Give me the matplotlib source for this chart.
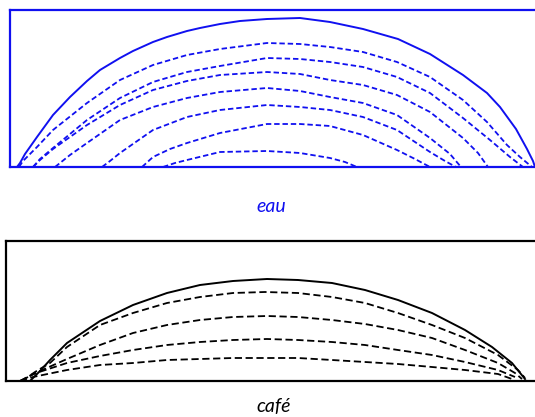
import matplotlib
matplotlib.use("Agg")
import matplotlib.pyplot as plt

# profils de goutte, x = position le long du bord, h = hauteur au-dessus du substrat
# eau (haut) : courbe initiale puis profils successifs
eau_x0 = [17, 20, 25, 37, 53, 70, 87, 100, 120, 133, 153, 167, 187, 200, 220, 240, 267, 300, 330, 363, 398, 430, 463, 487, 500, 516, 527, 533, 535]
eau_h0 = [0, 4, 13, 30, 52, 70, 86, 97, 109, 116, 125, 130, 136, 139, 143, 146, 148, 149, 145, 138, 128, 113, 92, 74, 60, 38, 18, 6, 0]

eau_x1 = [19, 23, 37, 53, 87, 120, 153, 187, 220, 267, 300, 330, 363, 397, 430, 463, 487, 507, 520, 532]
eau_h1 = [0, 6, 20, 37, 64, 87, 102, 112, 118, 124, 123, 120, 115, 105, 90, 67, 45, 22, 10, 0]
eau_x2 = [33, 40, 53, 87, 120, 153, 187, 220, 267, 300, 330, 363, 397, 430, 463, 490, 510, 523]
eau_h2 = [0, 8, 19, 47, 69, 85, 95, 101, 109, 108, 105, 100, 90, 74, 49, 27, 10, 0]
eau_x3 = [33, 40, 53, 87, 120, 153, 187, 220, 267, 300, 330, 363, 397, 430, 463, 478, 488]
eau_h3 = [0, 7, 18, 42, 62, 77, 86, 92, 95, 93, 87, 82, 72, 55, 29, 14, 0]
eau_x4 = [55, 70, 87, 120, 153, 187, 220, 267, 300, 330, 363, 397, 430, 450, 461]
eau_h4 = [0, 12, 24, 47, 60, 69, 75, 79, 76, 70, 64, 52, 29, 13, 0]
eau_x5 = [102, 110, 120, 153, 187, 220, 267, 300, 330, 363, 397, 430, 445, 456]
eau_h5 = [0, 6, 14, 37, 50, 57, 62, 60, 57, 50, 37, 15, 6, 0]
eau_x6 = [142, 153, 170, 187, 220, 267, 300, 330, 363, 397, 415, 430]
eau_h6 = [0, 10, 18, 24, 34, 43, 43, 41, 32, 17, 8, 0]
eau_x7 = [163, 175, 187, 220, 267, 300, 330, 345, 357]
eau_h7 = [0, 4, 7, 15, 16, 14, 9, 5, 0]

# café (bas)
cafe_x0 = [30, 40, 50, 67, 100, 133, 167, 200, 233, 267, 298, 332, 365, 398, 432, 465, 492, 512, 525]
cafe_h0 = [0, 10, 21, 38, 60, 76, 88, 96, 100, 102, 101, 98, 91, 81, 68, 51, 34, 18, 2]

cafe_x1 = [22, 35, 50, 67, 100, 133, 167, 200, 233, 265, 298, 332, 365, 398, 432, 465, 498, 518, 525]
cafe_h1 = [0, 9, 18, 34, 56, 68, 78, 84, 88, 89, 88, 84, 78, 68, 56, 43, 26, 11, 3]
cafe_x2 = [20, 40, 67, 100, 133, 167, 200, 233, 267, 298, 332, 365, 398, 432, 465, 498, 515, 522]
cafe_h2 = [0, 10, 22, 36, 48, 56, 61, 64, 65, 64, 61, 57, 51, 43, 31, 18, 8, 2]
cafe_x3 = [20, 33, 67, 100, 133, 167, 200, 233, 267, 298, 332, 365, 398, 432, 465, 498, 515]
cafe_h3 = [0, 7, 18, 25, 31, 36, 39, 41, 42, 41, 39, 36, 31, 26, 19, 11, 4]
cafe_x4 = [20, 33, 67, 100, 133, 167, 200, 233, 267, 298, 332, 365, 398, 432, 465, 498, 512]
cafe_h4 = [0, 4, 11, 16, 18, 21, 22, 23, 23, 23, 21, 19, 17, 14, 11, 7, 2]

eau_dashed = [(eau_x1, eau_h1), (eau_x2, eau_h2), (eau_x3, eau_h3), (eau_x4, eau_h4),
              (eau_x5, eau_h5), (eau_x6, eau_h6), (eau_x7, eau_h7)]
cafe_dashed = [(cafe_x1, cafe_h1), (cafe_x2, cafe_h2), (cafe_x3, cafe_h3), (cafe_x4, cafe_h4)]

W, H = 535, 417
blue = '#1010f0'

fig = plt.figure(figsize=(W / 100, H / 100), dpi=100)

def boxed_axes(left, top, bottom, right, color):
    ax = fig.add_axes([left / W, 1 - bottom / H, (right - left) / W, (bottom - top) / H])
    ax.set_xlim(left, right)
    ax.set_ylim(0, bottom - top)
    ax.set_xticks([])
    ax.set_yticks([])
    for s in ax.spines.values():
        s.set_color(color)
        s.set_linewidth(1.6)
    return ax

# eau
ax1 = boxed_axes(10, 10, 167, 545, blue)
ax1.plot(eau_x0, eau_h0, color=blue, lw=1.4, solid_joinstyle='round')
for x, h in eau_dashed:
    ax1.plot(x, h, color=blue, lw=1.3, linestyle=(0, (3.0, 1.6)))

# café
ax2 = boxed_axes(6, 241, 381, 545, 'black')
ax2.plot(cafe_x0, cafe_h0, color='black', lw=1.4, solid_joinstyle='round')
for x, h in cafe_dashed:
    ax2.plot(x, h, color='black', lw=1.3, linestyle=(0, (4.0, 2.0)))

fig.text(271 / W, 1 - 206 / H, 'eau', color=blue, style='italic', fontsize=14,
         family=['Lato', 'DejaVu Sans'], ha='center', va='center')
fig.text(274 / W, 1 - 407 / H, 'café', color='black', style='italic', fontsize=14,
         family=['Lato', 'DejaVu Sans'], ha='center', va='center')

fig.savefig('out.png', dpi=100)
